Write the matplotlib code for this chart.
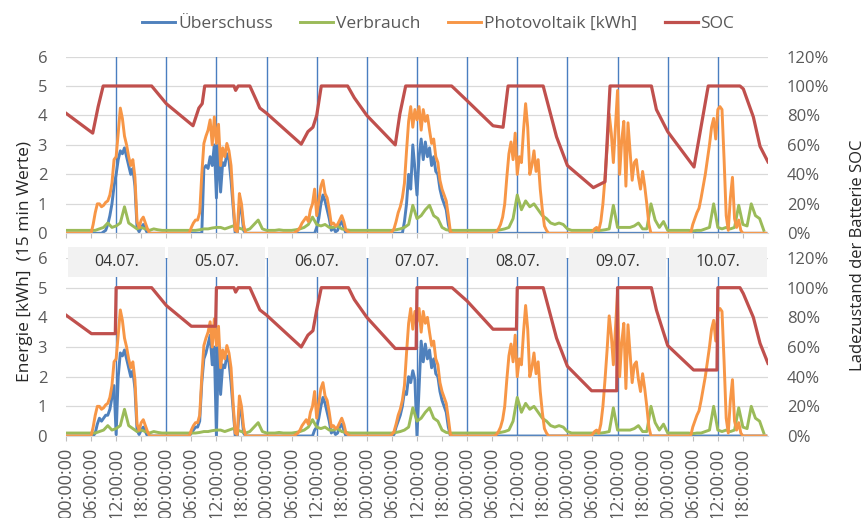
import numpy as np
import matplotlib
matplotlib.use("Agg")
import matplotlib.pyplot as plt
from matplotlib.patches import Rectangle

plt.rcParams['font.family'] = ['Open Sans', 'DejaVu Sans']

days = ['04.07.', '05.07.', '06.07.', '07.07.', '08.07.', '09.07.', '10.07.']
tick_labels = ['00:00:00', '06:00:00', '12:00:00', '18:00:00'] * 7

# Photovoltaik [kWh], half-hourly values from 06:00 to 20:30 (night = 0)
pv_0407 = [0.0, 0.3, 0.7, 1.0, 1.0, 0.9, 0.95, 1.05, 1.1, 1.3, 1.7, 2.5, 2.6, 3.4, 4.25, 3.9, 3.3, 3.0, 2.6, 2.3,
           2.5, 1.9, 0.4, 0.2, 0.45, 0.55, 0.35, 0.15, 0.0, 0.0]
pv_0507 = [0.2, 0.35, 0.45, 0.45, 0.7, 2.0, 3.05, 3.3, 3.5, 3.85, 3.0, 3.95, 3.05, 3.7, 2.3, 2.9, 2.6, 3.05, 2.8, 2.3,
           1.1, 0.1, 0.05, 1.35, 1.0, 0.3, 0.0, 0.0, 0.0, 0.0]
pv_0607 = [0.0, 0.0, 0.05, 0.1, 0.2, 0.35, 0.45, 0.55, 0.4, 0.8, 1.0, 1.5, 0.6, 1.1, 1.6, 1.8, 1.35, 1.2, 0.8, 0.3,
           0.35, 0.25, 0.3, 0.45, 0.6, 0.4, 0.1, 0.05, 0.0, 0.0]
pv_0707 = [0.05, 0.15, 0.4, 0.7, 0.9, 1.2, 1.7, 2.8, 3.8, 4.3, 3.6, 4.2, 3.85, 4.3, 3.5, 4.2, 3.8, 4.0, 3.5, 3.05,
           3.2, 2.6, 2.4, 1.8, 1.5, 1.3, 1.1, 0.6, 0.05, 0.0]
pv_0807 = [0.0, 0.0, 0.05, 0.15, 0.3, 0.55, 1.0, 1.9, 2.7, 3.1, 2.5, 3.4, 2.0, 2.6, 2.4, 3.5, 4.4, 3.6, 2.0, 2.3,
           2.8, 2.1, 2.5, 1.5, 0.8, 0.25, 0.1, 0.0, 0.0, 0.0]
pv_0907 = [0.05, 0.15, 0.2, 0.1, 0.4, 1.0, 1.9, 2.9, 4.05, 3.4, 2.4, 3.6, 4.85, 2.0, 3.15, 3.8, 1.6, 3.75, 2.8, 1.8,
           2.4, 2.5, 1.9, 1.5, 2.1, 1.6, 1.0, 0.3, 0.0, 0.0]
pv_1007 = [0.3, 0.5, 0.7, 0.85, 1.2, 1.6, 2.0, 2.5, 3.0, 3.6, 3.9, 3.2, 4.2, 4.3, 4.2, 2.5, 0.6, 0.1, 1.2, 1.9,
           0.5, 0.2, 0.45, 0.1, 0.0, 0.0, 0.0, 0.0, 0.0, 0.0]

# Ueberschuss [kWh], half-hourly 06:00-20:30, upper chart
ue_top_0407 = [0, 0, 0, 0, 0, 0, 0.05, 0.1, 0.3, 0.6, 1.0, 1.6, 2.0, 2.5, 2.8, 2.7, 2.9, 2.6, 2.3, 2.0,
               2.2, 1.6, 0.2, 0.05, 0.2, 0.3, 0.15, 0, 0, 0]
ue_top_0507 = [0, 0, 0, 0, 0, 0, 2.2, 2.3, 2.2, 2.6, 2.3, 3.0, 1.2, 3.0, 1.4, 2.4, 2.3, 2.7, 2.5, 1.8,
               0.9, 0, 0, 0.9, 0.8, 0.1, 0, 0, 0, 0]
ue_top_0607 = [0, 0, 0, 0, 0, 0, 0, 0, 0, 0, 0, 0, 0.2, 0.5, 1.0, 1.3, 1.1, 0.8, 0.5, 0.1,
               0.2, 0.05, 0.1, 0.3, 0.4, 0.2, 0, 0, 0, 0]
ue_top_0707 = [0, 0, 0, 0, 0, 0, 0.4, 1.0, 2.0, 1.5, 3.0, 2.2, 1.3, 2.6, 3.2, 2.5, 3.1, 2.6, 2.9, 2.3,
               2.6, 2.1, 2.0, 1.5, 1.2, 1.0, 0.8, 0.3, 0, 0]
# lower chart
ue_bot_0407 = [0, 0, 0.1, 0.4, 0.6, 0.5, 0.6, 0.7, 0.7, 0.9, 1.3, 1.7, 0.05, 2.0, 2.8, 2.7, 2.9, 2.6, 2.3, 2.0,
               2.2, 1.6, 0.2, 0.05, 0.2, 0.3, 0.15, 0, 0, 0]
ue_bot_0507 = [0.1, 0.2, 0.3, 0.3, 0.5, 1.8, 2.6, 2.8, 3.1, 3.4, 2.4, 3.0, 0.0, 3.0, 1.4, 2.4, 2.3, 2.7, 2.5, 1.8,
               0.9, 0, 0, 0.9, 0.8, 0.1, 0, 0, 0, 0]
ue_bot_0607 = [0, 0, 0, 0, 0, 0, 0, 0, 0, 0, 0, 0.2, 0.3, 0.6, 1.0, 1.3, 1.1, 0.8, 0.5, 0.1,
               0.2, 0.05, 0.1, 0.3, 0.4, 0.2, 0, 0, 0, 0]
ue_bot_0707 = [0, 0.05, 0.3, 0.5, 0.7, 1.0, 1.5, 1.4, 2.0, 1.8, 2.2, 1.9, 0.0, 1.6, 3.2, 2.5, 3.1, 2.6, 2.9, 2.3,
               2.6, 2.1, 2.0, 1.5, 1.2, 1.0, 0.8, 0.3, 0, 0]

# Verbrauch [kWh], hourly 00:00-23:00
vb_0407 = [0.1, 0.1, 0.1, 0.1, 0.1, 0.1, 0.1, 0.1, 0.15, 0.2, 0.35, 0.2, 0.25, 0.35, 0.9, 0.35, 0.25, 0.15, 0.2, 0.15, 0.1, 0.15, 0.12, 0.1]
vb_0507 = [0.1, 0.1, 0.1, 0.1, 0.1, 0.1, 0.1, 0.1, 0.12, 0.15, 0.15, 0.18, 0.2, 0.2, 0.15, 0.2, 0.25, 0.2, 0.15, 0.1, 0.15, 0.3, 0.45, 0.15]
vb_0607 = [0.1, 0.1, 0.1, 0.12, 0.1, 0.1, 0.1, 0.12, 0.15, 0.2, 0.3, 0.55, 0.3, 0.25, 0.3, 0.2, 0.2, 0.25, 0.15, 0.12, 0.1, 0.1, 0.1, 0.1]
vb_0707 = [0.1, 0.1, 0.1, 0.1, 0.1, 0.1, 0.1, 0.12, 0.15, 0.2, 0.3, 0.95, 0.5, 0.6, 0.8, 0.95, 0.6, 0.5, 0.2, 0.12, 0.1, 0.1, 0.1, 0.1]
vb_0807 = [0.1, 0.1, 0.1, 0.1, 0.1, 0.1, 0.1, 0.1, 0.12, 0.15, 0.2, 0.5, 1.3, 0.8, 1.1, 0.9, 1.0, 0.8, 0.6, 0.5, 0.35, 0.3, 0.35, 0.3]
vb_0907 = [0.15, 0.1, 0.1, 0.1, 0.1, 0.1, 0.1, 0.1, 0.1, 0.12, 0.15, 0.95, 0.2, 0.2, 0.2, 0.2, 0.25, 0.35, 0.15, 0.15, 1.0, 0.45, 0.2, 0.4]
vb_1007 = [0.1, 0.1, 0.1, 0.1, 0.1, 0.1, 0.08, 0.1, 0.1, 0.15, 0.2, 1.0, 0.2, 0.15, 0.2, 0.15, 0.2, 0.95, 0.3, 0.25, 1.0, 0.6, 0.5, 0.1]

# SOC [%] breakpoints (hours since 04.07. 00:00)
soc_top_h = [0, 6.4, 7.7, 8.9, 20.5, 24, 30.4, 31.8, 32.6, 33.2, 40.2, 40.6, 41.2, 44, 46.4, 48, 56.3, 57.9, 59.1,
             60.0, 61.1, 67.4, 69, 72, 78.8, 79.9, 81.3, 92.3, 96, 102.2, 104.6, 105.8, 114.2, 117.4, 120, 126.2,
             129, 130.2, 140.1, 141.3, 144, 150.3, 153.7, 161.3, 162.1, 164.5, 166.1, 168]
soc_top_pct = [81.5, 68, 86, 100, 100, 88, 73, 85, 88, 100, 100, 97, 100, 100, 85, 81.5, 60.5, 69, 72,
               80, 100, 100, 92, 80, 60, 81, 100, 100, 90, 73, 72, 100, 100, 65.5, 46, 31,
               35, 100, 100, 84, 69, 45, 100, 100, 98, 79, 59, 48.5]
soc_bot_h = [0, 6.1, 11.8, 12.0, 20.5, 24, 30.0, 35.8, 36.0, 40.2, 40.6, 41.2, 44, 46.4, 48, 56.3, 57.9, 59.1,
             60.0, 61.1, 67.6, 69, 72, 78.8, 83.8, 84.0, 92.4, 96, 102.2, 107.8, 108.0, 114.2, 117.4, 120, 125.8,
             131.8, 132.0, 140.1, 141.3, 142.3, 144, 150.2, 155.8, 156.0, 161.3, 162.1, 164.5, 166.1, 168]
soc_bot_pct = [81.5, 69, 69, 100, 100, 88, 74, 74, 100, 100, 97, 100, 100, 85, 81.5, 60, 68, 71,
               85, 100, 100, 92, 80, 59, 59, 100, 100, 91, 72, 72, 100, 100, 66, 47, 30.5,
               30.5, 100, 100, 85, 76, 61, 44.5, 44.5, 100, 100, 96, 80, 62.5, 49]

c_ue, c_vb, c_pv, c_soc = '#4F81BD', '#9BBB59', '#F79646', '#C0504D'
c_txt = '#595959'


def whole_week(day_lists):
    # night hours before 06:00 and after 20:30 are zero
    out = []
    for vals in day_lists:
        out.append(np.concatenate([np.zeros(12), vals, np.zeros(6)]))
    return np.concatenate(out)


t_half = np.arange(0, 168, 0.5)
t_hour = np.arange(0, 168, 1.0)
pv = whole_week([pv_0407, pv_0507, pv_0607, pv_0707, pv_0807, pv_0907, pv_1007])
zero_day = [0] * 30
ue_top = whole_week([ue_top_0407, ue_top_0507, ue_top_0607, ue_top_0707, zero_day, zero_day, zero_day])
ue_bot = whole_week([ue_bot_0407, ue_bot_0507, ue_bot_0607, ue_bot_0707, zero_day, zero_day, zero_day])
vb = np.concatenate([vb_0407, vb_0507, vb_0607, vb_0707, vb_0807, vb_0907, vb_1007])

fig = plt.figure(figsize=(8.66, 5.18), dpi=100)
ax_top = fig.add_axes([0.0762, 0.5496, 0.8106, 0.3413])
ax_bot = fig.add_axes([0.0762, 0.1583, 0.8106, 0.3436])

handles = []
for ax, ue, soc_h, soc_pct in [(ax_top, ue_top, soc_top_h, soc_top_pct),
                               (ax_bot, ue_bot, soc_bot_h, soc_bot_pct)]:
    ax.set_xlim(0, 168)
    ax.set_ylim(0, 6)
    ax.set_yticks(range(7))
    ax.grid(axis='y', color='#D9D9D9', lw=0.9)
    ax.set_axisbelow(True)
    for s in ['top', 'left', 'right']:
        ax.spines[s].set_visible(False)
    ax.spines['bottom'].set_color('#D9D9D9')
    ax.set_xticks(np.arange(0, 168, 6))
    ax.tick_params(axis='x', length=3.5, color='#BFBFBF', labelsize=13, labelcolor=c_txt, pad=5)
    ax.tick_params(axis='y', length=0, labelsize=12, labelcolor=c_txt, pad=13.5)
    for h in range(12, 168, 12):
        ax.axvline(h, color='#4A7EC0', lw=1.0, zorder=1.5)
    l1, = ax.plot(t_half, ue, color=c_ue, lw=2.1, label='Überschuss', zorder=2)
    l2, = ax.plot(t_hour, vb, color=c_vb, lw=2.1, label='Verbrauch', zorder=2.1)
    l3, = ax.plot(t_half, pv, color=c_pv, lw=2.1, label='Photovoltaik [kWh]', zorder=2.2)

    ax2 = ax.twinx()
    ax2.set_ylim(0, 120)
    ax2.set_yticks(range(0, 121, 20))
    ax2.set_yticklabels([f'{v}%' for v in range(0, 121, 20)])
    for s in ax2.spines.values():
        s.set_visible(False)
    ax2.tick_params(axis='y', length=0, labelsize=12, labelcolor=c_txt, pad=13.5)
    l4, = ax2.plot(soc_h, soc_pct, color=c_soc, lw=2.3, label='SOC')
    handles = [l1, l2, l3, l4]

ax_top.tick_params(axis='x', labelbottom=False)
ax_bot.set_xticklabels(tick_labels, rotation=90)

# date strip between the panels
for i, d in enumerate(days):
    ax_bot.add_patch(Rectangle((i * 24 + 0.4, 5.37), 23.3, 1.01, facecolor='#F2F2F2', edgecolor='none',
                               clip_on=False, zorder=10))
    ax_bot.text(i * 24 + 12, 5.87, d, ha='center', va='center', fontsize=11.5, color='#333333',
                clip_on=False, zorder=11)

fig.legend(handles=handles, labels=[h.get_label() for h in handles], loc='upper center',
           bbox_to_anchor=(0.506, 1.0), ncol=4, frameon=False, fontsize=12.5, handlelength=1.9,
           handletextpad=0.15, columnspacing=1.6, labelcolor=c_txt)

fig.text(25 / 866, 1 - 261 / 518, 'Energie [kWh]  (15 min Werte)', rotation=90, ha='center', va='center',
         fontsize=12.5, color='#262626')
fig.text(858 / 866, 1 - 255 / 518, 'Ladezustand der Batterie SOC', rotation=90, ha='center', va='center',
         fontsize=12, color='#262626')

fig.savefig('out.png', dpi=100)
